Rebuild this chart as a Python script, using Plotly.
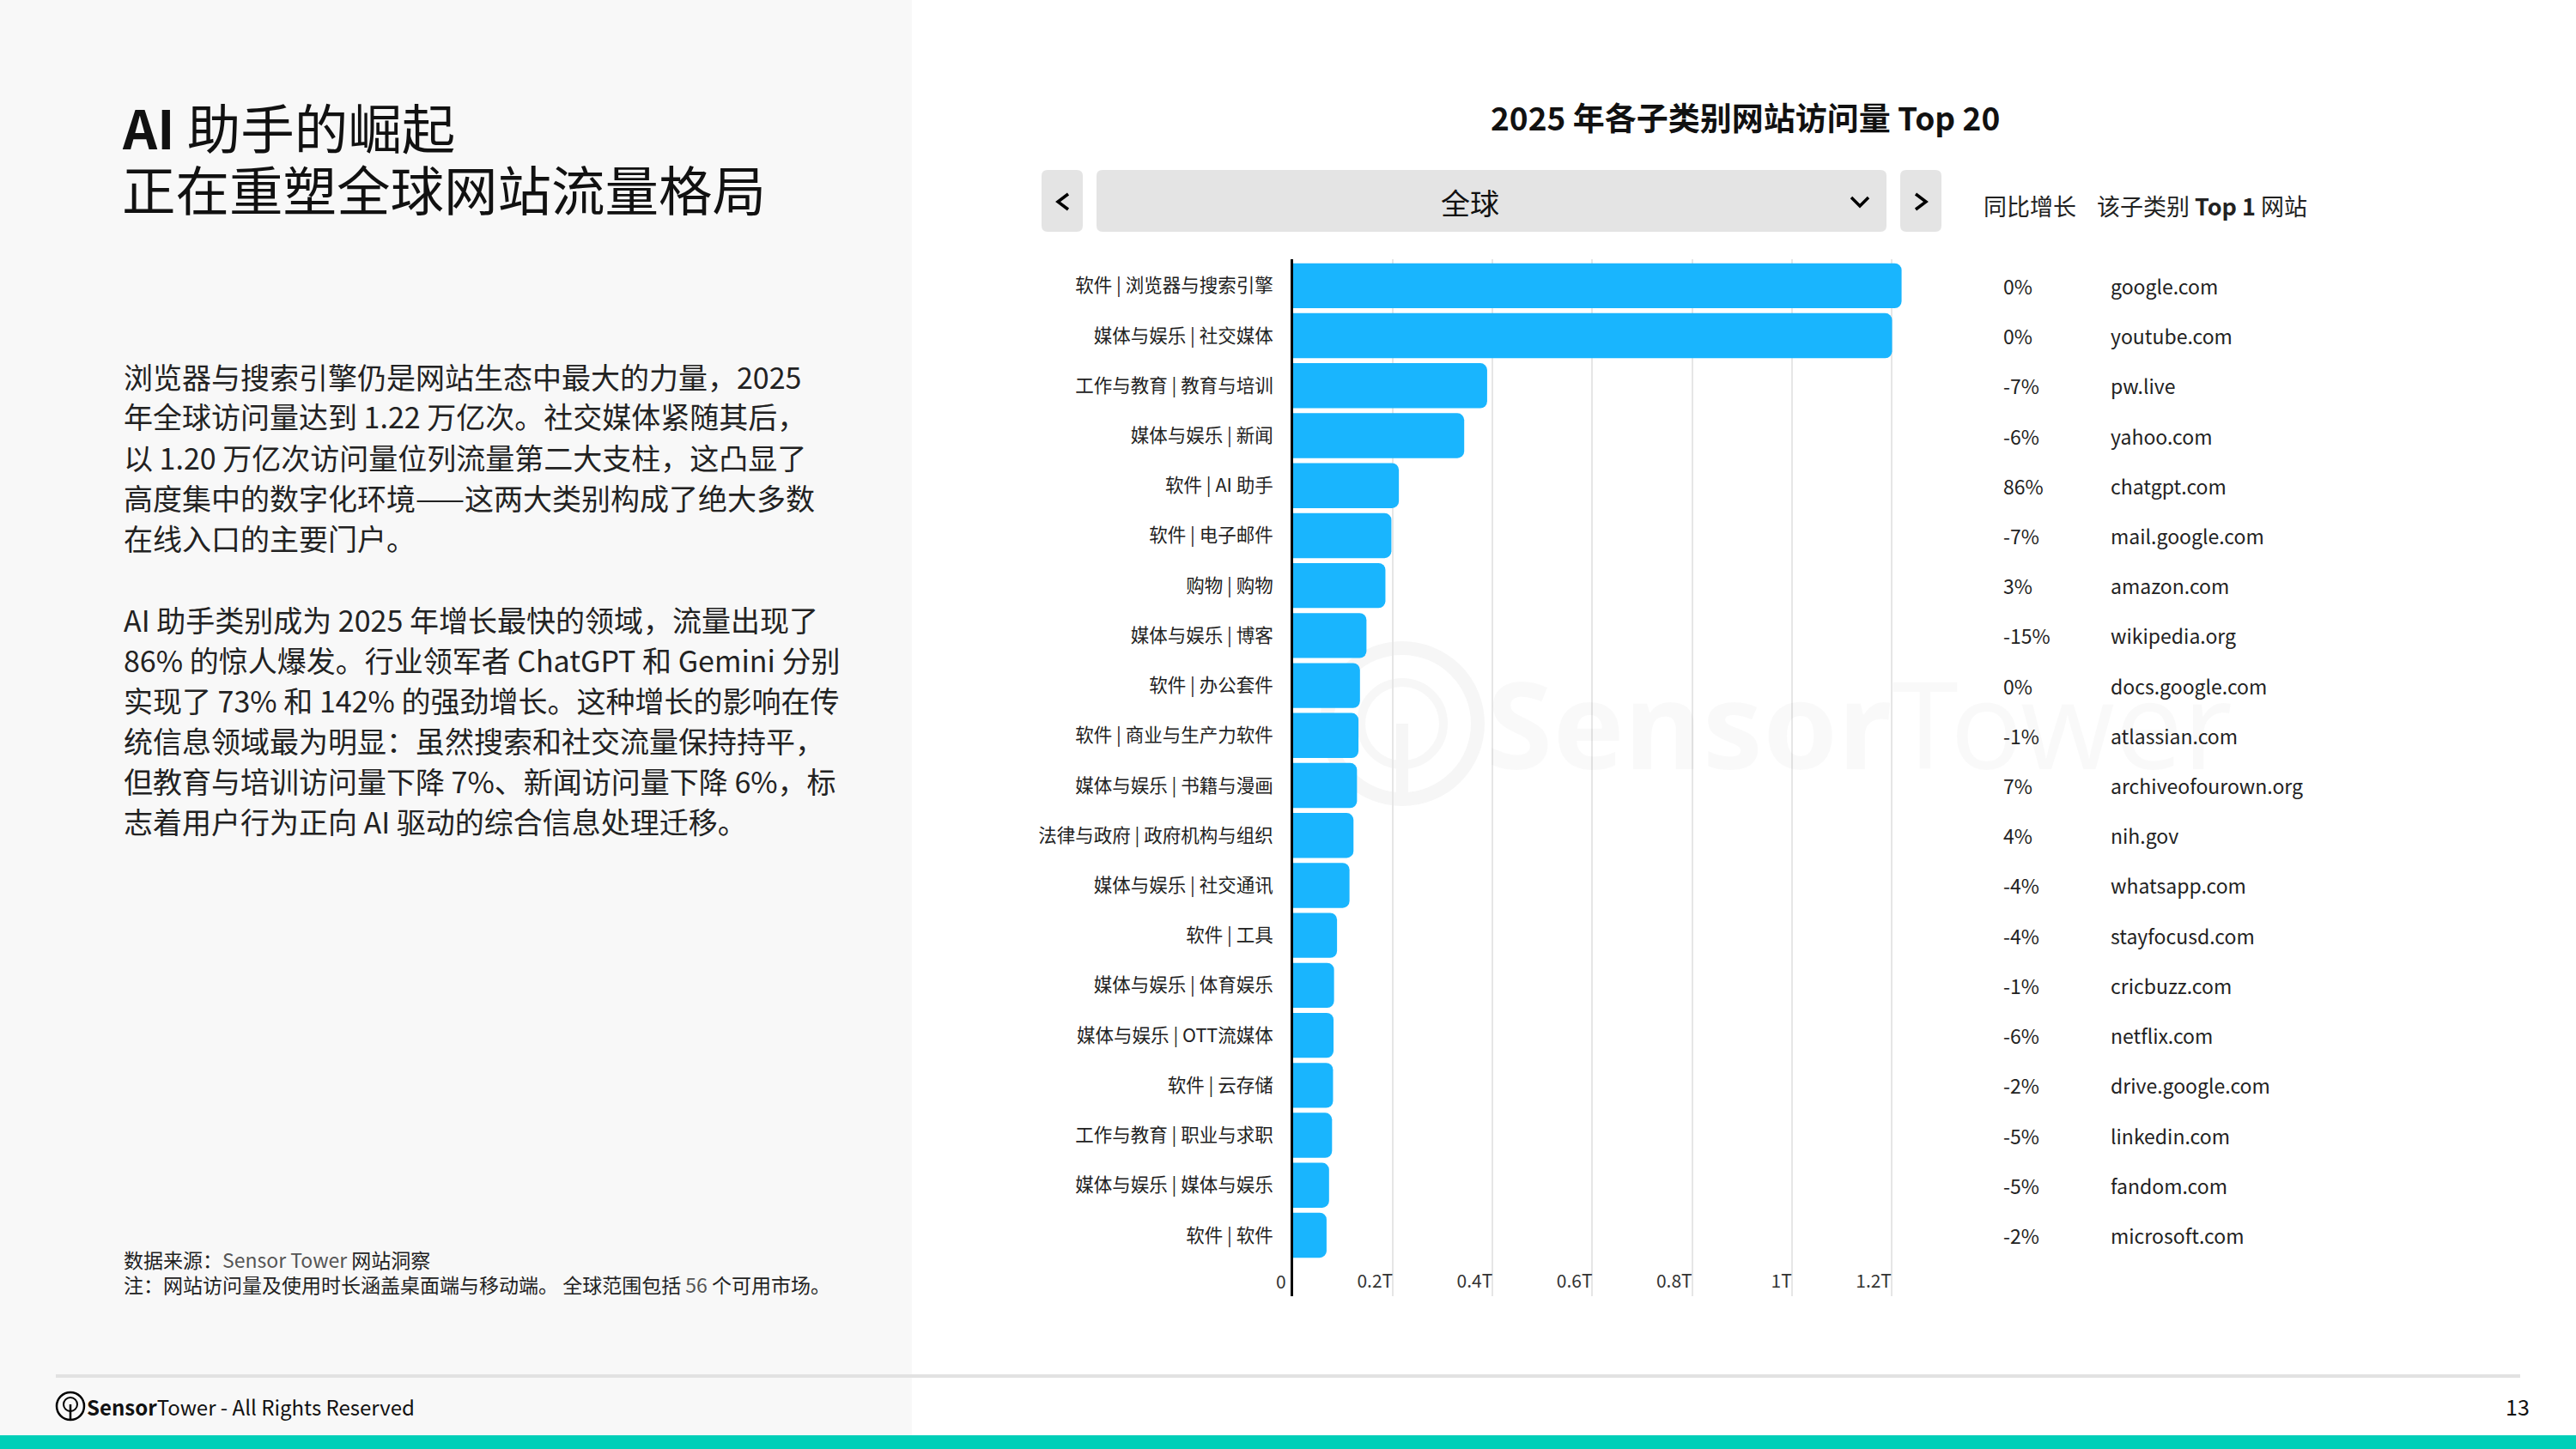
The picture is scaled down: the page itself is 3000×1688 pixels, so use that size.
import plotly.graph_objects as go

W, H = 3000, 1688
FONT = "Noto Sans CJK SC"

# ---------------- data ----------------
categories = [
    "软件 | 浏览器与搜索引擎", "媒体与娱乐 | 社交媒体", "工作与教育 | 教育与培训",
    "媒体与娱乐 | 新闻", "软件 | AI 助手", "软件 | 电子邮件", "购物 | 购物",
    "媒体与娱乐 | 博客", "软件 | 办公套件", "软件 | 商业与生产力软件",
    "媒体与娱乐 | 书籍与漫画", "法律与政府 | 政府机构与组织", "媒体与娱乐 | 社交通讯",
    "软件 | 工具", "媒体与娱乐 | 体育娱乐", "媒体与娱乐 | OTT流媒体", "软件 | 云存储",
    "工作与教育 | 职业与求职", "媒体与娱乐 | 媒体与娱乐", "软件 | 软件",
]
visits_trillion = [1.220, 1.201, 0.389, 0.343, 0.212, 0.197, 0.185, 0.147, 0.134, 0.131,
                   0.128, 0.121, 0.113, 0.088, 0.082, 0.081, 0.080, 0.078, 0.072, 0.067]
yoy_growth = ["0%", "0%", "-7%", "-6%", "86%", "-7%", "3%", "-15%", "0%", "-1%",
              "7%", "4%", "-4%", "-4%", "-1%", "-6%", "-2%", "-5%", "-5%", "-2%"]
top_sites = ["google.com", "youtube.com", "pw.live", "yahoo.com", "chatgpt.com",
             "mail.google.com", "amazon.com", "wikipedia.org", "docs.google.com",
             "atlassian.com", "archiveofourown.org", "nih.gov", "whatsapp.com",
             "stayfocusd.com", "cricbuzz.com", "netflix.com", "drive.google.com",
             "linkedin.com", "fandom.com", "microsoft.com"]
x_tickvals = [0, 0.2, 0.4, 0.6, 0.8, 1.0, 1.2]
x_ticktext = ["0", "0.2T", "0.4T", "0.6T", "0.8T", "1T", "1.2T"]

title_lines = ["<b>AI</b> 助手的崛起", "正在重塑全球网站流量格局"]
para1 = ["浏览器与搜索引擎仍是网站生态中最大的力量，2025",
         "年全球访问量达到 1.22 万亿次。社交媒体紧随其后，",
         "以 1.20 万亿次访问量位列流量第二大支柱，这凸显了",
         "高度集中的数字化环境——这两大类别构成了绝大多数",
         "在线入口的主要门户。"]
para2 = ["AI 助手类别成为 2025 年增长最快的领域，流量出现了",
         "86% 的惊人爆发。行业领军者 ChatGPT 和 Gemini 分别",
         "实现了 73% 和 142% 的强劲增长。这种增长的影响在传",
         "统信息领域最为明显：虽然搜索和社交流量保持持平，",
         "但教育与培训访问量下降 7%、新闻访问量下降 6%，标",
         "志着用户行为正向 AI 驱动的综合信息处理迁移。"]
source_lines = ["数据来源：<span style='color:#555'>Sensor Tower</span> 网站洞察",
                "注：网站访问量及使用时长涵盖桌面端与移动端。 全球范围包括 <span style='color:#555'>56</span> 个可用市场。"]
chart_title = "<b>2025 年各子类别网站访问量 Top 20</b>"


def X(px):
    return px / W


def Y(py):
    return 1 - py / H


fig = go.Figure()
fig.add_trace(go.Bar(
    x=visits_trillion, y=categories, orientation="h",
    marker=dict(color="#19B5FE", cornerradius=8, line=dict(width=0)),
    hoverinfo="skip",
))

n = len(categories)
fig.update_layout(
    width=W, height=H, margin=dict(l=0, r=0, t=0, b=0),
    paper_bgcolor="white", plot_bgcolor="rgba(0,0,0,0)",
    showlegend=False, bargap=0.1,
    font=dict(family=FONT, color="#222"),
    xaxis=dict(domain=[X(1506), X(2232)], range=[0, 1.25],
               tickvals=x_tickvals, ticktext=x_ticktext,
               ticklabelposition="inside left", ticks="",
               tickfont=dict(size=21, color="#333", family=FONT),
               showgrid=True, gridcolor="#E6E6E6", gridwidth=2,
               zeroline=False, showline=False, fixedrange=True),
    yaxis=dict(domain=[Y(1510), Y(302)], type="category",
               categoryorder="array", categoryarray=categories,
               range=[n - 1 + 1.22, -0.53],
               ticks="", ticklabelstandoff=16,
               tickfont=dict(size=21.5, color="#222", family=FONT),
               showline=True, linecolor="black", linewidth=3,
               showgrid=False, zeroline=False, fixedrange=True),
)

shapes = []
# left panel background
shapes.append(dict(type="rect", xref="paper", yref="paper", x0=0, x1=X(1062), y0=Y(1672), y1=1,
                   fillcolor="#F8F8F8", line=dict(width=0), layer="below"))
# watermark logo
shapes.append(dict(type="circle", xref="paper", yref="paper",
                   x0=X(1633 - 88), x1=X(1633 + 88), y0=Y(843 + 88), y1=Y(843 - 88),
                   line=dict(color="#F6F6F6", width=16), layer="below"))
shapes.append(dict(type="circle", xref="paper", yref="paper",
                   x0=X(1633 - 48), x1=X(1633 + 48), y0=Y(843 + 48), y1=Y(843 - 48),
                   line=dict(color="#F7F7F7", width=10), layer="below"))
shapes.append(dict(type="line", xref="paper", yref="paper",
                   x0=X(1633), x1=X(1633), y0=Y(843), y1=Y(925),
                   line=dict(color="#F6F6F6", width=14), layer="below"))
# footer line and teal bar
shapes.append(dict(type="line", xref="paper", yref="paper", x0=X(65), x1=X(2935), y0=Y(1603), y1=Y(1603),
                   line=dict(color="#E2E2E2", width=4)))
shapes.append(dict(type="rect", xref="paper", yref="paper", x0=0, x1=1, y0=0, y1=Y(1672),
                   fillcolor="#00CFB8", line=dict(width=0)))


def rrect(x0, y0, x1, y1, r, color):
    p = (f"M {X(x0 + r)},{Y(y0)} L {X(x1 - r)},{Y(y0)} Q {X(x1)},{Y(y0)} {X(x1)},{Y(y0 + r)} "
         f"L {X(x1)},{Y(y1 - r)} Q {X(x1)},{Y(y1)} {X(x1 - r)},{Y(y1)} "
         f"L {X(x0 + r)},{Y(y1)} Q {X(x0)},{Y(y1)} {X(x0)},{Y(y1 - r)} "
         f"L {X(x0)},{Y(y0 + r)} Q {X(x0)},{Y(y0)} {X(x0 + r)},{Y(y0)} Z")
    return dict(type="path", xref="paper", yref="paper", path=p, fillcolor=color,
                line=dict(width=0), layer="above")


def polyline(pts, width=3.5):
    p = "M " + " L ".join(f"{X(a)},{Y(b)}" for a, b in pts)
    return dict(type="path", xref="paper", yref="paper", path=p,
                line=dict(color="black", width=width), layer="above")


shapes.append(rrect(1213, 198, 1261, 270, 7, "#E4E4E4"))
shapes.append(rrect(1277, 198, 2197, 270, 7, "#E4E4E4"))
shapes.append(rrect(2213, 198, 2261, 270, 7, "#E4E4E4"))
shapes.append(polyline([(1244, 226), (1232, 235), (1244, 244)]))
shapes.append(polyline([(2231, 226), (2243, 235), (2231, 244)]))
shapes.append(polyline([(2156, 230), (2166, 240), (2176, 230)]))

# footer logo
shapes.append(dict(type="circle", xref="paper", yref="paper",
                   x0=X(82 - 16), x1=X(82 + 16), y0=Y(1638 + 16), y1=Y(1638 - 16),
                   line=dict(color="black", width=2.5)))
shapes.append(dict(type="circle", xref="paper", yref="paper",
                   x0=X(82 - 8), x1=X(82 + 8), y0=Y(1636 + 8), y1=Y(1636 - 8),
                   line=dict(color="black", width=2)))
shapes.append(dict(type="line", xref="paper", yref="paper", x0=X(82), x1=X(82), y0=Y(1636), y1=Y(1654),
                   line=dict(color="black", width=2.5)))

annotations = []


def txt(text, x, y, size, anchor="left", color="#222", ya="middle"):
    annotations.append(dict(text=text, x=X(x), y=Y(y), xref="paper", yref="paper",
                            xanchor=anchor, yanchor=ya, showarrow=False,
                            font=dict(size=size, color=color, family=FONT)))


# left panel
for i, t in enumerate(title_lines):
    txt(t, 140, 146 + 73 * i, 62.5, color="#111")
for i, t in enumerate(para1):
    txt(t, 142, 438 + 47 * i, 34)
for i, t in enumerate(para2):
    txt(t, 142, 721 + 47 * i, 34)
for i, t in enumerate(source_lines):
    txt(t, 142, 1467 + 29 * i, 23, color="#222")

# watermark
annotations.append(dict(text="<b>Sensor</b>Tower", x=X(2165), y=Y(842), xref="paper", yref="paper",
                        xanchor="center", yanchor="middle", showarrow=False,
                        font=dict(size=140, color="rgba(0,0,0,0.022)", family="Noto Sans")))

# the "0" tick label at the axis origin (inside labels left of the plot area are hidden)
annotations.append(dict(text=x_ticktext[0], x=x_tickvals[0], y=Y(1492), xref="x", yref="paper",
                        xanchor="right", yanchor="middle", xshift=-6, showarrow=False,
                        font=dict(size=21, color="#333", family=FONT)))

# chart header
txt(chart_title, 2032, 136, 37, anchor="center", color="#111")
txt("全球", 1712, 235, 34, anchor="center", color="#111")
txt("同比增长", 2308, 239, 27, color="#222")
txt("该子类别 <b>Top 1</b> 网站", 2440, 239, 27, color="#222")

# right columns
for cat, g, d in zip(categories, yoy_growth, top_sites):
    annotations.append(dict(text=g, x=X(2331), y=cat, xref="paper", yref="y",
                            xanchor="left", yanchor="middle", showarrow=False,
                            font=dict(size=23, color="#222", family=FONT)))
    annotations.append(dict(text=d, x=X(2456), y=cat, xref="paper", yref="y",
                            xanchor="left", yanchor="middle", showarrow=False,
                            font=dict(size=23, color="#222", family=FONT)))

# footer
txt("<b>Sensor</b>Tower - All Rights Reserved", 99, 1638, 24, color="#111")
txt("13", 2948, 1638, 25, anchor="right", color="#111")

fig.update_layout(shapes=shapes, annotations=annotations)
fig.write_html("out.html", config={"displayModeBar": False})
